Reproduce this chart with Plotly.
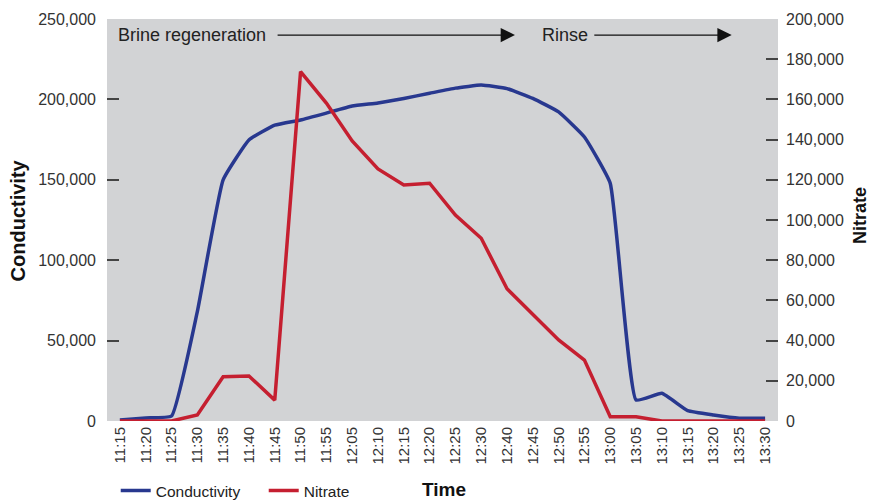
import plotly.graph_objects as go

times = ["11:15", "11:20", "11:25", "11:30", "11:35", "11:40", "11:45", "11:50", "11:55",
         "12:05", "12:10", "12:15", "12:20", "12:25", "12:30", "12:40", "12:45", "12:50",
         "12:55", "13:00", "13:05", "13:10", "13:15", "13:20", "13:25", "13:30"]

conductivity = [600, 1900, 3100, 68000, 150000, 174800, 184000, 187200, 191500,
                195900, 197800, 200600, 203800, 207000, 208900, 206700, 200600, 192200,
                176600, 147800, 13100, 17200, 6400, 3700, 1700, 1700]

nitrate = [0, 0, 0, 3000, 22000, 22400, 10400, 173800, 158200,
           139300, 125400, 117400, 118300, 102500, 90900, 65800, 53100, 40300,
           30300, 2100, 2100, 0, 0, 0, 0, 0]

left_ticks = [0, 50000, 100000, 150000, 200000, 250000]
right_ticks = [0, 20000, 40000, 60000, 80000, 100000, 120000, 140000, 160000, 180000, 200000]

BLUE = "#28388f"
RED = "#c51f30"
FONT = "Liberation Sans, Arial, Helvetica, sans-serif"

fig = go.Figure()
fig.add_trace(go.Scatter(x=times, y=conductivity, name="Conductivity", mode="lines",
                         line=dict(color=BLUE, width=3.5, shape="spline", smoothing=0.35),
                         yaxis="y"))
fig.add_trace(go.Scatter(x=times, y=nitrate, name="Nitrate", mode="lines",
                         line=dict(color=RED, width=3.5),
                         yaxis="y2"))

fig.update_layout(
    width=867, height=492,
    margin=dict(l=99, r=97, t=11, b=79, autoexpand=False),
    paper_bgcolor="white",
    plot_bgcolor="#d2d3d5",
    font=dict(family=FONT, color="#333333", size=16),
    showlegend=True,
    legend=dict(orientation="h", x=0.013, y=-0.174, xanchor="left", yanchor="middle",
                font=dict(size=15.5, color="#222222"), bgcolor="rgba(0,0,0,0)",
                entrywidth=103, entrywidthmode="pixels", tracegroupgap=0),
    xaxis=dict(type="category", categoryorder="array", categoryarray=times,
               range=[-0.5, len(times) - 0.5], showgrid=False, zeroline=False,
               showline=False, ticks="", tickangle=-90, automargin=False,
               tickfont=dict(size=15, color="#333333"), ticklabelstandoff=2),
    yaxis=dict(range=[0, 250000], tickvals=left_ticks, tickformat=",d",
               showgrid=False, zeroline=False, showline=False, automargin=False,
               ticks="inside", ticklen=12, tickwidth=1.5, tickcolor="#444444",
               tickfont=dict(size=16, color="#333333"), ticklabelstandoff=10),
    yaxis2=dict(range=[0, 200000], tickvals=right_ticks, tickformat=",d",
                overlaying="y", side="right", anchor="x", automargin=False,
                showgrid=False, zeroline=False, showline=False,
                ticks="inside", ticklen=12, tickwidth=1.5, tickcolor="#444444",
                tickfont=dict(size=16, color="#333333"), ticklabelstandoff=7),
)

annotations = [
    dict(text="<b>Conductivity</b>", x=-0.132, y=0.5, xref="paper", yref="paper",
         textangle=-90, showarrow=False, font=dict(size=20, color="#111111"),
         xanchor="center", yanchor="middle"),
    dict(text="<b>Nitrate</b>", x=1.122, y=0.512, xref="paper", yref="paper",
         textangle=-90, showarrow=False, font=dict(size=18, color="#111111"),
         xanchor="center", yanchor="middle"),
    dict(text="<b>Time</b>", x=0.502, y=-0.170, xref="paper", yref="paper",
         showarrow=False, font=dict(size=19, color="#111111"),
         xanchor="center", yanchor="middle"),
    dict(text="Brine regeneration", x=0.0134, y=0.960, xref="paper", yref="paper",
         showarrow=False, font=dict(size=18, color="#222222"),
         xanchor="left", yanchor="middle"),
    dict(text="Rinse", x=0.645, y=0.960, xref="paper", yref="paper",
         showarrow=False, font=dict(size=18, color="#222222"),
         xanchor="left", yanchor="middle"),
    dict(text="", x=0.608, y=0.960, ax=0.252, ay=0.960, xref="x domain", yref="y domain",
         axref="x domain", ayref="y domain", showarrow=True, arrowhead=2, arrowsize=2.2,
         arrowwidth=1.3, arrowcolor="#111111", standoff=0),
    dict(text="", x=0.931, y=0.960, ax=0.724, ay=0.960, xref="x domain", yref="y domain",
         axref="x domain", ayref="y domain", showarrow=True, arrowhead=2, arrowsize=2.2,
         arrowwidth=1.3, arrowcolor="#111111", standoff=0),
]
fig.update_layout(annotations=annotations)

fig.write_html("out.html")
